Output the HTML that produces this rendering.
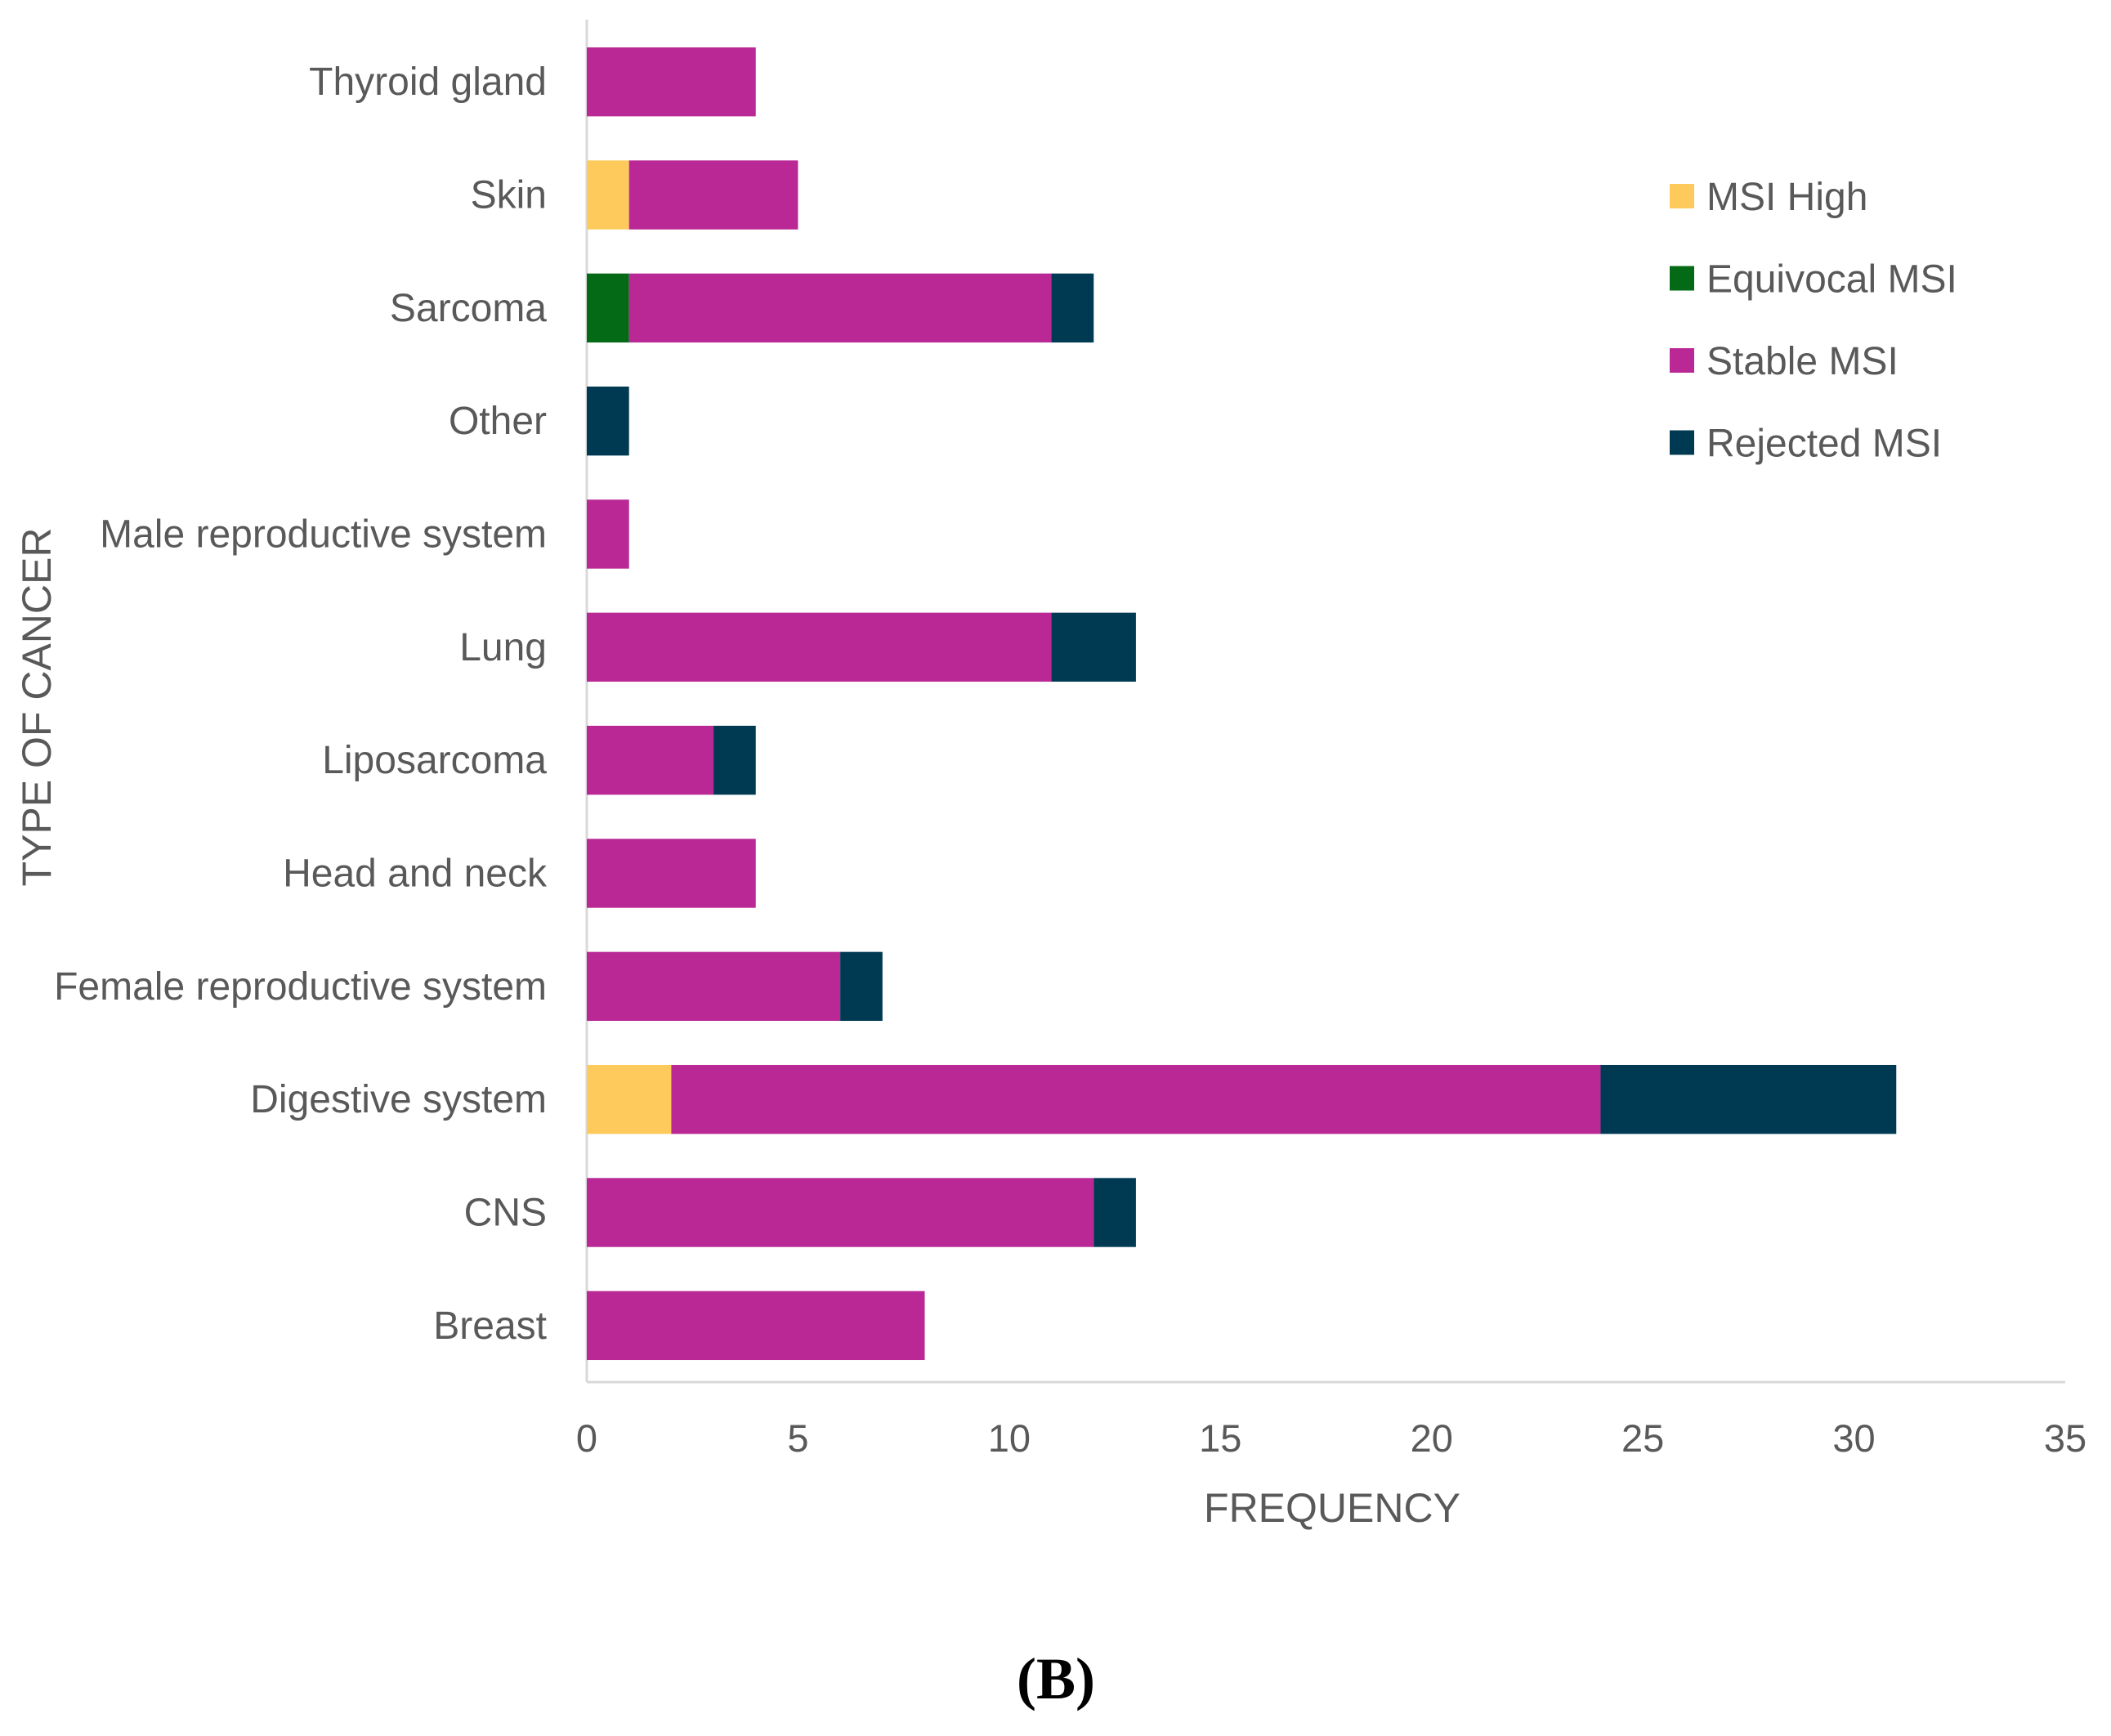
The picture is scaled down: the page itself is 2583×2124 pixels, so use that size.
<!DOCTYPE html>
<html><head><meta charset="utf-8"><style>body{margin:0;background:#fff}svg{display:block}</style></head>
<body>
<svg id="chart" width="2583" height="2124" xmlns="http://www.w3.org/2000/svg" font-family="'Liberation Sans', 'DejaVu Sans', sans-serif">
<g id="plot"></g>
</svg>
<script>
const categories = ["Thyroid gland","Skin","Sarcoma","Other","Male reproductive system","Lung","Liposarcoma","Head and neck","Female reproductive system","Digestive system","CNS","Breast"];
const seriesNames = ["MSI High","Equivocal MSI","Stable MSI","Rejected MSI"];
const msiHigh =      [0,1,0,0,0,0,0,0,0,2,0,0];
const equivocalMsi = [0,0,1,0,0,0,0,0,0,0,0,0];
const stableMsi =    [4,4,10,0,1,11,3,4,6,22,12,8];
const rejectedMsi =  [0,0,1,1,0,2,1,0,1,7,1,0];
const xTicks = [0,5,10,15,20,25,30,35];
const colors = ["#FFCA5C","#056A16","#B92895","#003A52"];

const NS = "http://www.w3.org/2000/svg";
const g = document.getElementById('plot');
const X0 = 718, X1 = 2527, XMAX = 35, YTOP = 31, YBOT = 1691;
const band = (YBOT - YTOP) / categories.length;
const barH = band * 0.61;
function xs(v){ return X0 + v / XMAX * (X1 - X0); }
function yc(i){ return YTOP + band * (i + 0.5); }
function mk(tag, attrs, txt){
  const e = document.createElementNS(NS, tag);
  for (const k in attrs) e.setAttribute(k, attrs[k]);
  if (txt !== undefined) e.textContent = txt;
  g.appendChild(e); return e;
}
let ax = mk('line', {x1:X0, y1:24, x2:X0, y2:YBOT, stroke:'#D9D9D9', 'stroke-width':3});


let bx = mk('line', {x1:X0, y1:YBOT, x2:X1, y2:YBOT, stroke:'#D9D9D9', 'stroke-width':3});



const series = [msiHigh, equivocalMsi, stableMsi, rejectedMsi];
categories.forEach((c, i) => {
  let acc = 0;
  series.forEach((s, j) => {
    const v = s[i];
    if (v > 0) {
      const r = mk('rect', {x:xs(acc), y:yc(i) - barH/2, width:xs(acc+v)-xs(acc), height:barH, fill:colors[j]});
      
      
    }
    acc += v;
  });
  const t = mk('text', {x:669, y:yc(i)+16, 'text-anchor':'end', 'font-size':48, fill:'#595959'}, c);
  
  
});
xTicks.forEach(v => {
  const t = mk('text', {x:xs(v), y:1776, 'text-anchor':'middle', 'font-size':47, fill:'#595959'}, String(v));
  
  
});
const xt = mk('text', {x:1630, y:1862, 'text-anchor':'middle', 'font-size':50, fill:'#595959'}, 'FREQUENCY');


const yt = mk('text', {x:0, y:0, 'text-anchor':'middle', 'font-size':50, fill:'#595959', transform:'translate(62,865) rotate(-90)'}, 'TYPE OF CANCER');


seriesNames.forEach((n, j) => {
  const cy = 240 + j * 100.5;
  const r = mk('rect', {x:2043, y:cy-15, width:30, height:30, fill:colors[j]});
  
  
  const t = mk('text', {x:2088, y:cy+17, 'font-size':48, fill:'#595959'}, n);
  
  
});
const pl = mk('text', {x:1292, y:2078, 'text-anchor':'middle', 'font-size':72, 'font-weight':'bold', 'font-family':"'Liberation Serif', serif", fill:'#000'}, '(B)');


</script>
</body></html>
